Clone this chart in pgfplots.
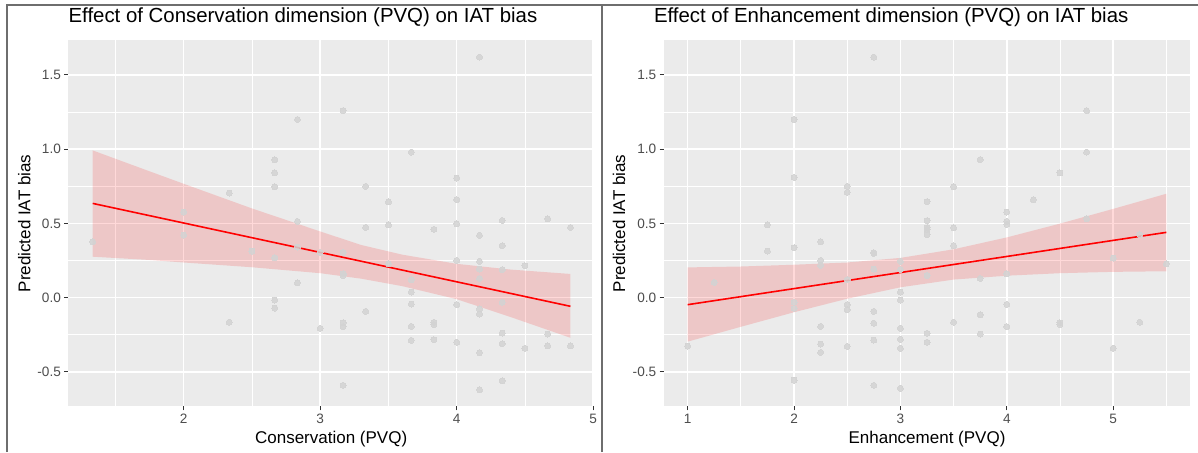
\documentclass[border=0pt]{standalone}
\usepackage{pgfplots}
\pgfplotsset{compat=1.18}
\usepackage{fontspec}
\setmainfont{Liberation Sans}
\definecolor{panelbg}{HTML}{EBEBEB}
\definecolor{ticklab}{HTML}{4D4D4D}
\definecolor{tickcol}{HTML}{333333}
\definecolor{ptcol}{HTML}{D3D3D3}
\definecolor{framecol}{HTML}{6E6E6E}

\pgfplotsset{
  ggstyle/.style={
    scale only axis,
    height=365.9pt,
    ymin=-0.732, ymax=1.732,
    axis background/.style={fill=panelbg},
    axis line style={draw=none},
    grid=both,
    major grid style={white, line width=1.5pt},
    minor grid style={white, line width=0.75pt},
    tick align=outside,
    major tick length=4pt,
    minor tick length=0pt,
    tick style={tickcol, line width=1pt},
    tick pos=left,
    ytick={-0.5,0,0.5,1,1.5},
    yticklabels={-0.5,0.0,0.5,1.0,1.5},
    minor ytick={-0.25,0.25,0.75,1.25},
    ticklabel style={font=\fontsize{13.6}{16}\selectfont, text=ticklab},
    label style={font=\fontsize{17}{20}\selectfont},
    xlabel style={at={(axis description cs:0.5,-0.0891)}, anchor=center},
    ylabel={Predicted IAT bias},
    title style={font=\fontsize{20.4}{24}\selectfont, at={(axis description cs:0,1)}, anchor=base west, yshift=11.8pt, inner sep=0pt},
  },
  pts/.style={only marks, color=ptcol, mark=*, mark size=3pt, mark options={fill=ptcol, draw=ptcol, line width=0pt, fill opacity=0.85, draw opacity=0.85}},
  band/.style={fill=red, fill opacity=0.15, draw=none},
  fit/.style={red, line width=1.6pt, no marks},
}

\begin{document}
\begin{tikzpicture}
\useasboundingbox (0pt,0pt) rectangle (1198pt,452pt);
\fill[white] (0pt,0pt) rectangle (1198pt,452pt);

% ---------------- Left panel ----------------
\begin{axis}[ggstyle,
  at={(68.4pt,45.6pt)}, anchor=south west,
  width=525.5pt,
  xmin=1.155, xmax=5.005,
  xtick={2,3,4,5}, xticklabels={2,3,4,5},
  minor xtick={1.5,2.5,3.5,4.5},
  xlabel={Conservation (PVQ)},
  ylabel style={at={(axis description cs:-0.0837,0.5)}, anchor=center},
  title={Effect of Conservation dimension (PVQ) on IAT bias},
]
\addplot[band] coordinates {
(1.333,0.992) (1.75,0.851) (2.0,0.767) (2.5,0.601) (3.0,0.446) (3.3,0.355) (3.6,0.290) (4.0,0.228) (4.4,0.189) (4.833,0.160)
(4.833,-0.270) (4.4,-0.132) (4.0,-0.010) (3.6,0.078) (3.3,0.128) (3.0,0.165) (2.5,0.205) (2.0,0.237) (1.75,0.254) (1.333,0.276)
} -- cycle;
\addplot[pts] table {
x y
1.333 0.377
2 0.577
2 0.422
2.333 0.705
2.333 -0.165
2.5 0.314
2.667 0.929
2.667 0.840
2.667 0.747
2.667 0.269
2.667 -0.016
2.667 -0.070
2.833 1.20
2.833 0.514
2.833 0.341
2.833 0.10
3 0.305
3 -0.206
3.167 1.26
3.167 0.305
3.167 0.160
3.167 0.148
3.167 -0.170
3.167 -0.195
3.167 -0.59
3.333 0.75
3.333 0.473
3.333 -0.092
3.5 0.645
3.5 0.49
3.5 0.229
3.667 0.98
3.667 0.121
3.667 0.038
3.667 -0.043
3.667 -0.193
3.667 -0.287
3.833 0.46
3.833 -0.166
3.833 -0.182
3.833 -0.283
4 0.806
4 0.66
4 0.497
4 0.251
4 -0.047
4 -0.30
4.167 1.62
4.167 0.42
4.167 0.245
4.167 0.193
4.167 0.13
4.167 -0.076
4.167 -0.11
4.167 -0.37
4.167 -0.62
4.333 0.52
4.333 0.35
4.333 0.189
4.333 -0.031
4.333 -0.238
4.333 -0.31
4.333 -0.56
4.5 0.215
4.5 -0.34
4.667 0.53
4.667 -0.245
4.667 -0.325
4.833 0.473
4.833 -0.325
};
\addplot[fit] coordinates {(1.333,0.635) (4.833,-0.058)};
\end{axis}

% ---------------- Right panel ----------------
\begin{axis}[ggstyle,
  at={(663.7pt,45.6pt)}, anchor=south west,
  width=526.6pt,
  xmin=0.775, xmax=5.725,
  xtick={1,2,3,4,5}, xticklabels={1,2,3,4,5},
  minor xtick={1.5,2.5,3.5,4.5,5.5},
  xlabel={Enhancement (PVQ)},
  ylabel style={at={(axis description cs:-0.0849,0.5)}, anchor=center},
  title={Effect of Enhancement dimension (PVQ) on IAT bias},
  title style={xshift=-9.9pt},
]
\addplot[band] coordinates {
(1.0,0.204) (1.5,0.210) (2.0,0.222) (2.5,0.237) (3.0,0.268) (3.5,0.326) (4.0,0.406) (4.5,0.499) (5.0,0.598) (5.5,0.700)
(5.5,0.178) (5.0,0.174) (4.5,0.165) (4.0,0.148) (3.5,0.122) (3.0,0.070) (2.5,-0.007) (2.0,-0.098) (1.5,-0.196) (1.0,-0.296)
} -- cycle;
\addplot[pts] table {
x y
1 -0.326
1.25 0.103
1.75 0.49
1.75 0.314
2 1.20
2 0.81
2 0.337
2 -0.031
2 -0.072
2 -0.555
2.25 0.377
2.25 0.251
2.25 0.218
2.25 -0.193
2.25 -0.312
2.25 -0.368
2.5 0.75
2.5 0.71
2.5 0.121
2.5 -0.047
2.5 -0.081
2.5 -0.328
2.75 1.62
2.75 0.303
2.75 0.298
2.75 0.193
2.75 -0.092
2.75 -0.172
2.75 -0.285
2.75 -0.59
3 0.245
3 0.19
3 0.038
3 -0.016
3 -0.206
3 -0.28
3 -0.341
3 -0.61
3.25 0.647
3.25 0.519
3.25 0.471
3.25 0.46
3.25 0.424
3.25 0.15
3.25 -0.24
3.25 -0.30
3.5 0.747
3.5 0.471
3.5 0.35
3.5 -0.165
3.75 0.93
3.75 0.13
3.75 -0.115
3.75 -0.245
4 0.577
4 0.514
4 0.494
4 0.16
4 -0.045
4 -0.195
4.25 0.66
4.5 0.84
4.5 -0.17
4.5 -0.18
4.75 1.26
4.75 0.98
4.75 0.532
5 0.267
5 -0.34
5.25 0.424
5.25 -0.165
5.5 0.227
};
\addplot[fit] coordinates {(1,-0.047) (5.5,0.440)};
\end{axis}

% frame of the original figure
\draw[framecol, line width=1.6pt] (7pt,0pt) -- (7pt,447pt) -- (1198pt,447pt);
\draw[framecol, line width=1.6pt] (602pt,0pt) -- (602pt,447pt);
\end{tikzpicture}
\end{document}
